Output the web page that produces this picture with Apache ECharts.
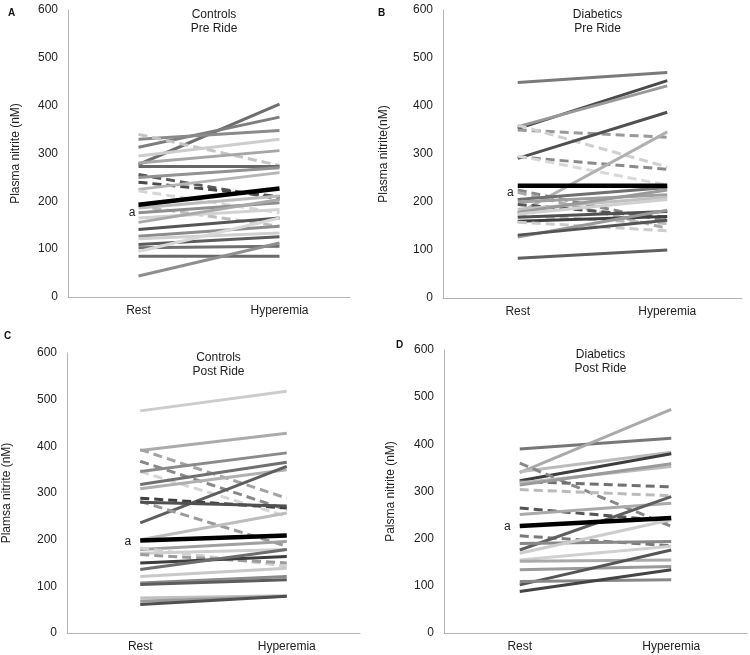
<!DOCTYPE html>
<html><head><meta charset="utf-8">
<script src="https://cdn.jsdelivr.net/npm/echarts@6/dist/echarts.min.js"></script>
<style>html,body{margin:0;padding:0;background:#fff}#c{width:750px;height:655px}</style>
</head><body><div id="c"></div>
<script>
const categories = ['Rest', 'Hyperemia'];

// Panel A: Controls Pre Ride
const aRest = [277, 313, 330, 340, 295, 280, 273, 256, 240, 250, 225, 222, 190, 186, 176, 165, 156, 141, 127, 122, 110, 103, 95, 85, 44];
const aHyp  = [403, 376, 348, 275, 330, 306, 273, 205, 210, 270, 260, 176, 148, 211, 197, 183, 204, 165, 148, 134, 126, 106, 165, 85, 113];
const aMean = [193, 227];
// Panel B: Diabetics Pre Ride
const bRest = [449, 353, 357, 350, 360, 291, 294, 296, 176, 225, 220, 205, 200, 195, 185, 178, 172, 168, 160, 158, 175, 127, 131, 83];
const bHyp  = [470, 453, 442, 335, 273, 387, 268, 235, 346, 160, 145, 230, 215, 168, 210, 225, 155, 180, 170, 140, 205, 183, 162, 100];
const bMean = [234, 234];
// Panel C: Controls Post Ride
const cRest = [476, 391, 393, 368, 346, 346, 318, 309, 236, 289, 282, 280, 200, 179, 171, 182, 168, 150, 136, 121, 107, 104, 75, 68, 61];
const cHyp  = [518, 428, 289, 264, 250, 386, 366, 350, 357, 268, 186, 272, 257, 196, 179, 143, 150, 164, 179, 139, 121, 114, 80, 79, 79];
const cMean = [198, 209];
// Panel D: Diabetics Post Ride
const dRest = [390, 340, 342, 323, 360, 321, 304, 318, 314, 265, 251, 206, 176, 190, 169, 155, 152, 134, 102, 109, 88];
const dHyp  = [413, 474, 383, 380, 226, 310, 291, 353, 359, 237, 275, 185, 289, 194, 240, 184, 155, 141, 176, 113, 134];
const dMean = [227, 244];

// styles (separate from data)
const aColors = ['#6e6e6e','#7d7d7d','#8a8a8a','#c4c4c4','#cdcdcd','#a6a6a6','#676767','#5a5a5a','#4a4a4a','#929292','#b5b5b5','#d5d5d5','#bdbdbd','#bbbbbb','#8f8f8f','#d2d2d2','#a9a9a9','#555555','#8c8c8c','#cfcfcf','#5c5c5c','#707070','#d8d8d8','#6a6a6a','#8e8e8e'];
const aDash   = [0,0,0,1,0,0,0,1,1,0,0,1,1,0,0,0,0,0,0,0,0,0,0,0,0];
const bColors = ['#7a7a7a','#4a4a4a','#9a9a9a','#999999','#d0d0d0','#505050','#8a8a8a','#d8d8d8','#b0b0b0','#888888','#aaaaaa','#707070','#a0a0a0','#555555','#c0c0c0','#999999','#bbbbbb','#505050','#404040','#cccccc','#d0d0d0','#999999','#555555','#606060'];
const bDash   = [0,0,0,1,1,0,1,1,0,1,1,0,0,1,0,0,1,0,0,1,0,0,0,0];
const cColors = ['#cccccc','#ababab','#a3a3a3','#888888','#d6d6d6','#8a8a8a','#707070','#b0b0b0','#5e5e5e','#3f3f3f','#9a9a9a','#505050','#bdbdbd','#a0a0a0','#cfcfcf','#d0d0d0','#9b9b9b','#3d3d3d','#6d6d6d','#c9c9c9','#8a8a8a','#5c5c5c','#c0c0c0','#9a9a9a','#505050'];
const cDash   = [0,0,1,1,1,0,0,0,0,1,1,0,0,0,0,1,1,0,0,0,0,0,0,0,0];
const dColors = ['#777777','#aaaaaa','#bbbbbb','#3d3d3d','#888888','#707070','#bbbbbb','#bcbcbc','#9a9a9a','#555555','#aaaaaa','#7a7a7a','#5e5e5e','#888888','#cccccc','#d0d0d0','#aaaaaa','#9a9a9a','#555555','#888888','#444444'];
const dDash   = [0,0,0,0,1,1,1,0,0,1,0,1,0,0,0,0,0,0,0,0,0];

const panels = [
  {rest:aRest, hyp:aHyp, mean:aMean, colors:aColors, dash:aDash, title:'Controls\nPre Ride', letter:'A', yname:'Plasma nitrite (nM)',
   grid:{left:68, top:10, width:282, height:287}, nameGap:46, letterPos:[3,3], aOff:[0,8], aDist:3},
  {rest:bRest, hyp:bHyp, mean:bMean, colors:bColors, dash:bDash, title:'Diabetics\nPre Ride', letter:'B', yname:'Plasma nitrite(nM)',
   grid:{left:443, top:10, width:299, height:288}, nameGap:53, letterPos:[373,3], aOff:[0,7], aDist:4},
  {rest:cRest, hyp:cHyp, mean:cMean, colors:cColors, dash:cDash, title:'Controls\nPost Ride', letter:'C', yname:'Plamsa nitrite (nM)',
   grid:{left:67, top:353, width:293, height:280}, nameGap:54, letterPos:[-1,326], aOff:[0,1], aDist:9},
  {rest:dRest, hyp:dHyp, mean:dMean, colors:dColors, dash:dDash, title:'Diabetics\nPost Ride', letter:'D', yname:'Palsma nitrite (nM)',
   grid:{left:444, top:350, width:303, height:283}, nameGap:47, letterPos:[391,335], aOff:[0,1], aDist:9}
];

const font = 'Liberation Sans, Arial, sans-serif';
const grids = [], xAxes = [], yAxes = [], series = [], titles = [];
panels.forEach((p, i) => {
  grids.push(p.grid);
  xAxes.push({type:'category', data:categories, gridIndex:i, boundaryGap:true,
    axisLine:{lineStyle:{color:'#b4b4b4', width:1}},
    axisTick:{alignWithLabel:true, length:4, lineStyle:{color:'#b4b4b4'}},
    axisLabel:{color:'#222', fontSize:12, fontFamily:font, margin:8},
    splitLine:{show:false}});
  yAxes.push({type:'value', gridIndex:i, min:0, max:600, interval:100,
    name:p.yname, nameLocation:'middle', nameGap:p.nameGap,
    nameTextStyle:{color:'#222', fontSize:12, fontFamily:font},
    axisLine:{show:true, lineStyle:{color:'#b4b4b4', width:1}},
    axisTick:{show:false},
    axisLabel:{color:'#222', fontSize:12, fontFamily:font, margin:10},
    splitLine:{show:false}});
  titles.push({text:p.title, left:p.grid.left + p.grid.width/2, top:p.grid.top - 7, textAlign:'center',
    textStyle:{fontSize:12, fontWeight:'normal', color:'#222', fontFamily:font, lineHeight:14}});
  titles.push({text:p.letter, left:p.letterPos[0], top:p.letterPos[1],
    textStyle:{fontSize:10, fontWeight:'bold', color:'#111', fontFamily:font}});
  p.rest.forEach((r, k) => {
    series.push({type:'line', xAxisIndex:i, yAxisIndex:i, data:[r, p.hyp[k]], symbol:'none', silent:true,
      lineStyle:{color:p.colors[k], width:3, type:p.dash[k] ? [9,5] : 'solid'}, z:2});
  });
  series.push({type:'line', xAxisIndex:i, yAxisIndex:i, symbol:'circle', symbolSize:0.01, showSymbol:true, showAllSymbol:true, silent:true,
    itemStyle:{color:'#000'},
    data:[{value:p.mean[0], label:{show:true, position:'left', distance:p.aDist, offset:p.aOff, formatter:'a', color:'#222', fontSize:12, fontFamily:font}}, p.mean[1]],
    lineStyle:{color:'#000', width:4.5}, z:5});
});

const chart = echarts.init(document.getElementById('c'), null, {renderer:'canvas'});
chart.setOption({animation:false, title:titles, grid:grids, xAxis:xAxes, yAxis:yAxes, series:series});
</script></body></html>
